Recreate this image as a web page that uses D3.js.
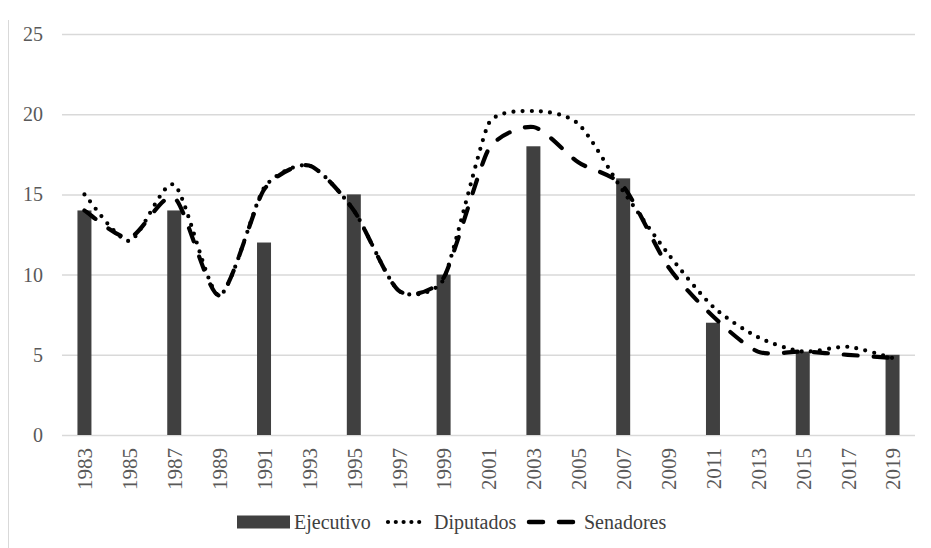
<!DOCTYPE html>
<html>
<head>
<meta charset="utf-8">
<script src="https://cdn.jsdelivr.net/npm/d3@7"></script>
<style>
  html, body { margin: 0; padding: 0; background: #fff; }
  svg { display: block; }
</style>
</head>
<body>
<svg id="chart" width="931" height="548"></svg>
<script>
// ---- data ----
const years = [1983,1985,1987,1989,1991,1993,1995,1997,1999,2001,2003,2005,2007,2009,2011,2013,2015,2017,2019];
const diputados = [15.0,12.1,15.6,8.7,15.4,16.8,14.0,9.0,9.7,19.4,20.2,19.4,15.2,11.3,8.0,6.1,5.2,5.5,4.8];
const senadores = [14.0,12.3,14.8,8.7,15.3,16.8,14.0,9.0,9.8,17.8,19.2,17.0,15.5,10.5,7.4,5.2,5.2,5.0,4.8];
const barYears = [1983,1987,1991,1995,1999,2003,2007,2011,2015,2019];
const ejecutivo = [14,14,12,15,10,18,16,7,5.2,5];
const yTicks = [0,5,10,15,20,25];
const yearLabels = years;
const legendLabels = ["Ejecutivo","Diputados","Senadores"];

(function () {
// ---- spreadsheet-style smoothed curve (Bezier, short clamped arms) ----
function SmoothCurve(context) { this._context = context; }
SmoothCurve.prototype = {
  areaStart() {}, areaEnd() {},
  lineStart() { this._pts = []; },
  point(x, y) { this._pts.push([+x, +y]); },
  lineEnd() {
    const p = this._pts, c = this._context, n = p.length;
    if (!n) return;
    const dist = (a, b) => Math.hypot(b[0] - a[0], b[1] - a[1]);
    const arm = (i, dir) => {
      const p0 = p[Math.max(i - 1, 0)], p2 = p[Math.min(i + 1, n - 1)], p1 = p[i];
      let vx = (p2[0] - p0[0]) / 8, vy = (p2[1] - p0[1]) / 8;
      const len = Math.hypot(vx, vy);
      const lim = Math.min(i > 0 ? dist(p[i - 1], p1) : Infinity, i < n - 1 ? dist(p1, p[i + 1]) : Infinity) / 3;
      if (len > lim && len > 0) { vx *= lim / len; vy *= lim / len; }
      return [p1[0] + dir * vx, p1[1] + dir * vy];
    };
    c.moveTo(p[0][0], p[0][1]);
    for (let i = 0; i < n - 1; i++) {
      const a = arm(i, 1), b = arm(i + 1, -1);
      c.bezierCurveTo(a[0], a[1], b[0], b[1], p[i + 1][0], p[i + 1][1]);
    }
  }
};
const curveSmooth = (context) => new SmoothCurve(context);

// ---- layout ----
const svg = d3.select("#chart");
const mLeft = 62, mRight = 915, mTop = 34, mBottom = 435;
const font = "'Liberation Serif', 'Times New Roman', serif";

const x = d3.scaleLinear().domain([1982, 2020]).range([mLeft, mRight]);
const y = d3.scaleLinear().domain([0, 25]).range([mBottom, mTop]);

// outer frame (left edge)
svg.append("line").attr("x1", 8.5).attr("x2", 8.5).attr("y1", 20).attr("y2", 548)
  .attr("stroke", "#d9d9d9").attr("stroke-width", 1);

// y axis with gridlines
const yAxis = svg.append("g").attr("transform", `translate(${mLeft},0)`)
  .call(d3.axisLeft(y).tickValues(yTicks).tickSize(-(mRight - mLeft)).tickPadding(19));
yAxis.select(".domain").remove();
yAxis.selectAll(".tick line").attr("stroke", "#d9d9d9").attr("stroke-width", 1.5);
yAxis.selectAll(".tick text").attr("fill", "#595959").attr("font-family", font).attr("font-size", 20);

// bars
const barW = 14;
svg.append("g").selectAll("rect").data(barYears).join("rect")
  .attr("x", (d) => x(d) - barW / 2)
  .attr("width", barW)
  .attr("y", (d, i) => y(ejecutivo[i]))
  .attr("height", (d, i) => y(0) - y(ejecutivo[i]))
  .attr("fill", "#404040");

// x axis labels
const xAxis = svg.append("g").attr("transform", `translate(0,${mBottom})`)
  .call(d3.axisBottom(x).tickValues(yearLabels).tickFormat(d3.format("d")).tickSize(0));
xAxis.select(".domain").remove();
xAxis.selectAll(".tick text")
  .attr("fill", "#595959").attr("font-family", font).attr("font-size", 21)
  .attr("text-anchor", "end")
  .attr("transform", "rotate(-90)")
  .attr("x", -13).attr("y", 0).attr("dy", "0.35em");

// lines
const line = (vals) => d3.line()
  .x((d) => x(d))
  .y((d, i) => y(vals[i]))
  .curve(curveSmooth)(years);

svg.append("path").attr("d", line(senadores))
  .attr("fill", "none").attr("stroke", "#000").attr("stroke-width", 4.2)
  .attr("stroke-linecap", "round").attr("stroke-dasharray", "14 16");

svg.append("path").attr("d", line(diputados))
  .attr("fill", "none").attr("stroke", "#000").attr("stroke-width", 4.2)
  .attr("stroke-linecap", "round").attr("stroke-dasharray", "0 9.2");

// legend
const ly = 522;
const lg = svg.append("g");
lg.append("rect").attr("x", 237).attr("y", ly - 6.5).attr("width", 53).attr("height", 13).attr("fill", "#404040");
lg.append("text").attr("x", 294).attr("y", ly).attr("dy", "0.35em").text(legendLabels[0]);
lg.append("line").attr("x1", 388).attr("x2", 427).attr("y1", ly).attr("y2", ly)
  .attr("stroke", "#000").attr("stroke-width", 4.2).attr("stroke-linecap", "round").attr("stroke-dasharray", "0 7.8");
lg.append("text").attr("x", 434).attr("y", ly).attr("dy", "0.35em").text(legendLabels[1]);
lg.append("line").attr("x1", 529).attr("x2", 575).attr("y1", ly).attr("y2", ly)
  .attr("stroke", "#000").attr("stroke-width", 4.5).attr("stroke-linecap", "round").attr("stroke-dasharray", "14 16");
lg.append("text").attr("x", 584).attr("y", ly).attr("dy", "0.35em").text(legendLabels[2]);
lg.selectAll("text").attr("font-family", font).attr("font-size", 20).attr("fill", "#404040");
})();
</script>
</body>
</html>
